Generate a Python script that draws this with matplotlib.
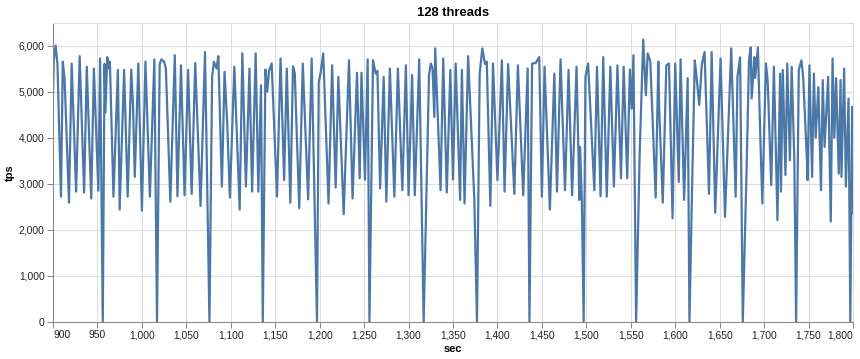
import matplotlib
matplotlib.use("Agg")
import matplotlib.pyplot as plt

# values (turning points of the tps curve)
sec = [900, 901, 903, 905, 909, 911, 913, 918, 921, 926, 930, 935, 938, 943, 946, 951, 953, 956,
       958, 959, 961, 963, 964, 968, 973, 975, 980, 984, 988, 990, 992, 996, 1000, 1004, 1009, 1014,
       1017, 1020, 1022, 1025, 1027,
       1032, 1037, 1040, 1044, 1048, 1052, 1056, 1060, 1066, 1071, 1076, 1079, 1081, 1084, 1086, 1090,
       1093, 1096, 1099, 1104, 1110, 1113, 1117, 1121, 1124, 1128, 1131, 1134, 1136, 1139, 1141, 1143,
       1146, 1152, 1156,
       1160, 1163, 1167, 1170, 1172, 1177, 1181, 1187, 1191, 1197, 1199, 1201, 1204, 1210, 1214, 1218,
       1221, 1227, 1230, 1233, 1237, 1242, 1245, 1247, 1251, 1254, 1256, 1260, 1263, 1265, 1268, 1272,
       1275, 1279, 1284,
       1288, 1293, 1297, 1300, 1304, 1307, 1312, 1317, 1323, 1325, 1327, 1329, 1330, 1336, 1339, 1343,
       1347, 1350, 1353, 1358, 1360, 1363, 1367, 1374, 1377, 1380, 1383, 1386, 1388, 1392, 1395, 1400,
       1405, 1408, 1412,
       1419, 1423, 1429, 1434, 1436, 1439, 1443, 1447, 1450, 1453, 1459, 1464, 1467, 1471, 1476, 1480,
       1484, 1489, 1491, 1492, 1493, 1495, 1497, 1499, 1502, 1509, 1512, 1516, 1519, 1523, 1527, 1531,
       1535, 1539,
       1542, 1546, 1549, 1551, 1553, 1556, 1560, 1564, 1567, 1569, 1572, 1578, 1581, 1582, 1586, 1590,
       1593, 1597, 1600, 1604, 1606, 1610, 1614, 1616, 1619, 1622, 1624, 1627, 1630, 1633, 1638, 1641,
       1645, 1651, 1656, 1663, 1668,
       1670, 1673, 1676, 1680, 1683, 1685, 1686, 1689, 1690, 1693, 1696, 1698, 1702, 1704, 1708, 1711,
       1715, 1718, 1719, 1721, 1724, 1726, 1729, 1731, 1734, 1736, 1739, 1742, 1744, 1748, 1749, 1751,
       1754, 1756, 1758, 1761, 1764, 1766, 1768, 1772, 1775, 1777, 1779, 1781, 1784, 1786, 1787, 1790,
       1792, 1795, 1797, 1799, 1800]
tps = [4950, 5700, 6000, 5600, 2720, 5650, 5300, 2590, 5610, 2830, 5770, 2810, 5540, 2680, 5500, 2850, 5720, 0,
       5600, 4550, 5750, 5500, 5650, 2720, 5470, 2440, 5470, 2720, 5480, 4700, 3150, 5610, 2415, 5650, 2720, 5700,
       0, 5600, 5700, 5650, 5500,
       2610, 5790, 2730, 5570, 2750, 5470, 2780, 5620, 2520, 5860, 0, 5320, 5650, 5500, 5770, 2940,
       5430, 4300, 2700, 5540, 2440, 5830, 2940, 5500, 2830, 5830, 2830, 5140, 0, 5480, 5000, 5450,
       5610, 2720, 5720,
       3080, 5500, 2590, 5550, 5400, 2470, 5610, 2660, 5720, 0, 5210, 5400, 5830, 2570, 5570, 2920,
       5320, 2340, 4000, 5680, 2680, 5410, 3120, 5410, 3090, 5700, 0, 5680, 5390, 5450, 2900, 5320,
       2610, 5500, 2720,
       5500, 2860, 5570, 2750, 5360, 2750, 5700, 0, 5360, 5610, 5500, 4450, 5940, 2860, 5720, 2810,
       5470, 3090, 5610, 2650, 5470, 2570, 5770, 2650, 0, 5390, 5940, 5600, 5650, 2520, 5610, 3080,
       5680, 2830, 5600,
       2780, 5570, 2750, 5500, 0, 5610, 5620, 5750, 2720, 5540, 2440, 5390, 2830, 5700, 2860, 5470,
       2750, 5540, 3770, 2650, 3800, 2610, 0, 5320, 5610, 2860, 5540, 2730, 5750, 2720, 5540, 2940,
       5570, 3120,
       5540, 3120, 5480, 4630, 5790, 0, 3660, 6130, 4920, 5830, 5650, 2700, 5650, 4600, 2590, 5570,
       5610, 2250, 5610, 3040, 5700, 2650, 5290, 0, 2940, 5680, 5320, 4710, 5600, 5860, 2780, 5860,
       2370, 5720, 2280, 5940, 2720,
       5320, 5740, 0, 3080, 5680, 5960, 4850, 5750, 5300, 5960, 3840, 2570, 5610, 5250, 2970, 5540,
       2210, 5390, 2830, 5470, 3190, 5610, 3510, 5540, 3510, 0, 5470, 5680, 5300, 3580, 3080, 5570,
       3150, 5390, 4000, 5100, 2860, 5250, 3800, 5320, 2180, 5720, 4000, 5290, 3220, 5250, 3150, 5500,
       2940, 4850, 0, 4670, 2360]

x_ticks = list(range(900, 1801, 50))
y_ticks = list(range(0, 6001, 1000))

W, H = 860, 359
fig = plt.figure(figsize=(W / 100, H / 100), dpi=100)
ax = fig.add_axes([53 / W, (H - 322) / H, 800 / W, 299.5 / H])

ax.plot(sec, tps, color="#4c78a8", lw=1.6, solid_joinstyle="round")

ax.set_xlim(900, 1800)
ax.set_ylim(0, 6500)
ax.set_xticks(x_ticks, ["{:,}".format(v) for v in x_ticks],
              fontsize=7.4, family="Liberation Sans", color="#222222")
ax.set_yticks(y_ticks, ["{:,}".format(v) for v in y_ticks],
              fontsize=7.4, family="Liberation Sans", color="#222222")
xlabs = ax.get_xticklabels()
xlabs[0].set_ha("left")
xlabs[-1].set_ha("right")

ax.grid(True, color="#dddddd", lw=0.75)
ax.set_axisbelow(True)
for s in ["top", "right"]:
    ax.spines[s].set_color("#dddddd")
    ax.spines[s].set_linewidth(0.75)
for s in ["left", "bottom"]:
    ax.spines[s].set_color("#888888")
    ax.spines[s].set_linewidth(0.75)
ax.tick_params(length=4, width=0.75, color="#888888", pad=2)

ax.set_xlabel("sec", fontsize=8, fontweight="bold", family="Liberation Sans", labelpad=3)
ax.set_ylabel("tps", fontsize=8, fontweight="bold", family="Liberation Sans", labelpad=3)
ax.set_title("128 threads", fontsize=9.4, fontweight="bold", family="Liberation Sans", pad=5)

fig.savefig("out.png", dpi=100)
